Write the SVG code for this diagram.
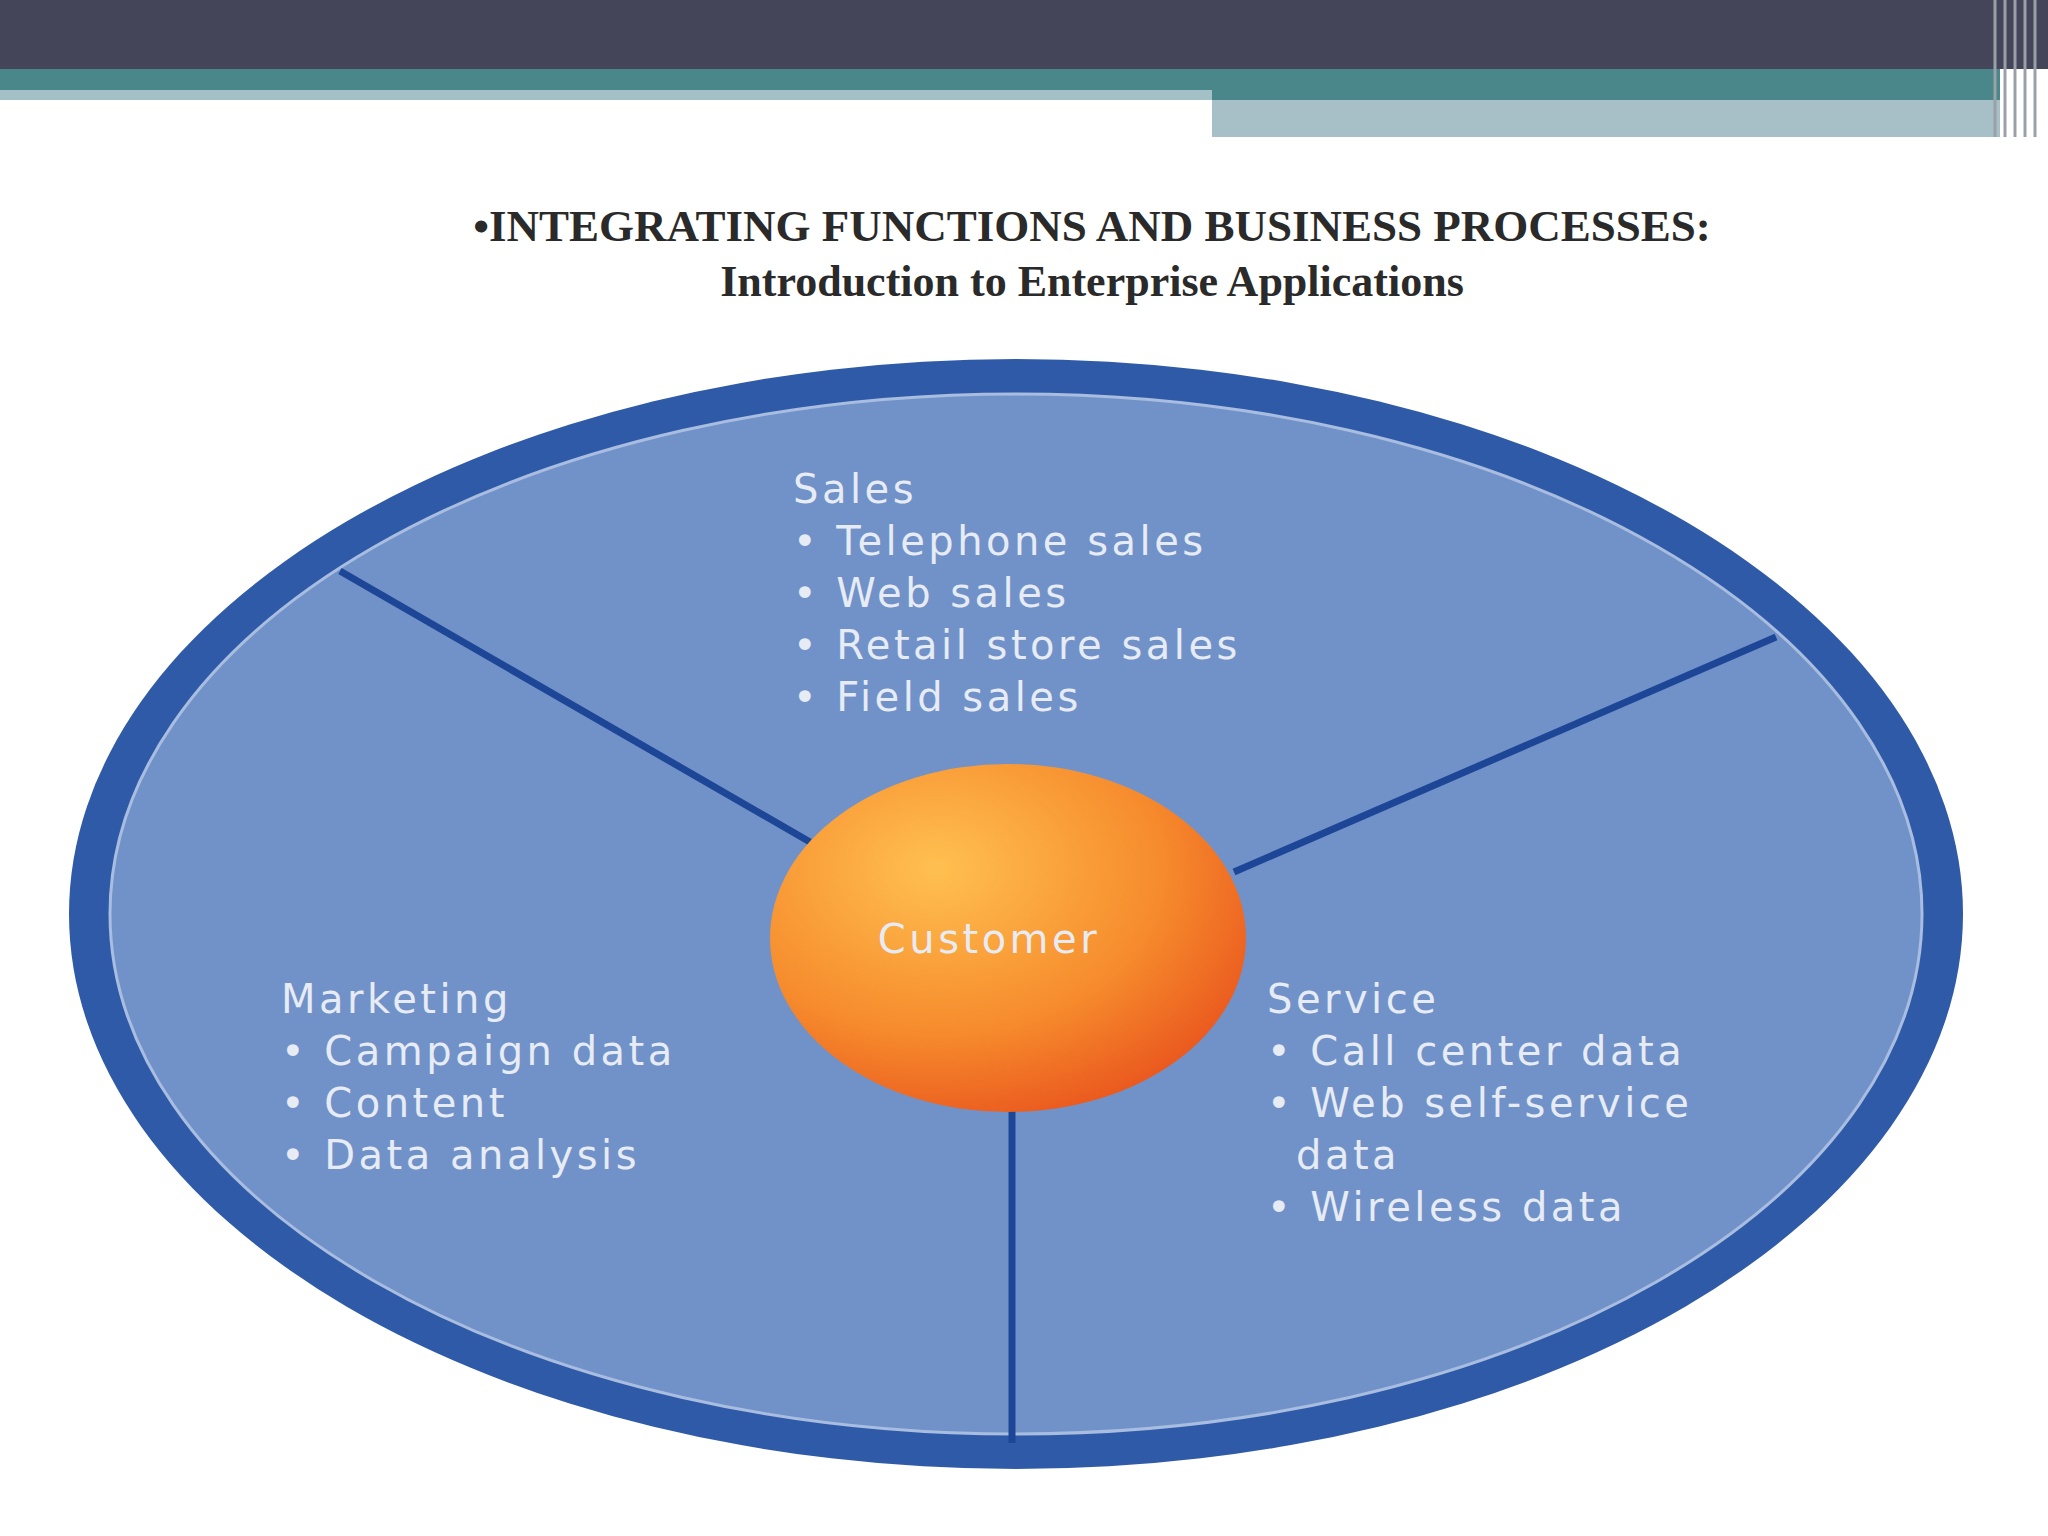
<svg xmlns="http://www.w3.org/2000/svg" width="2048" height="1536" viewBox="0 0 2048 1536">
<defs>
<radialGradient id="og" cx="0.35" cy="0.3" r="0.8">
<stop offset="0" stop-color="#ffc050"/><stop offset="0.6" stop-color="#f68a2c"/><stop offset="1" stop-color="#e8501c"/>
</radialGradient>
<style>
.t{font-family:"Liberation Serif",serif;font-weight:bold;fill:#2a2a2a;text-anchor:middle}
.l{font-family:"DejaVu Sans",sans-serif;font-size:40px;letter-spacing:3.5px;fill:#e6ebf4}
.d{stroke:#1e4696;stroke-width:7}
</style>
</defs>
<rect width="2048" height="1536" fill="#fff"/>
<g id="header">
<rect x="0" y="0" width="2048" height="69" fill="#45455a"/>
<rect x="0" y="69" width="2000" height="21" fill="#4a878a"/>
<rect x="0" y="90" width="1212" height="10" fill="#a2c0c6"/>
<rect x="1212" y="90" width="788" height="10" fill="#4a878a"/>
<rect x="1212" y="100" width="788" height="37" fill="#a7bfc7"/>
<g stroke="#9aa0a8" stroke-width="3"><line x1="1995" y1="0" x2="1995" y2="137"/><line x1="2005" y1="0" x2="2005" y2="137"/><line x1="2015" y1="0" x2="2015" y2="137"/><line x1="2025" y1="0" x2="2025" y2="137"/><line x1="2035" y1="0" x2="2035" y2="137"/></g>
</g>
<g id="title">
<text class="t" x="1092" y="241" font-size="45">•INTEGRATING FUNCTIONS AND BUSINESS PROCESSES:</text>
<text class="t" x="1092" y="296" font-size="44">Introduction to Enterprise Applications</text>
</g>
<g id="wheel">
<ellipse cx="1016" cy="914" rx="947" ry="555" fill="#2f5aa8"/>
<ellipse cx="1016" cy="914" rx="906" ry="520" fill="#7192c8" stroke="#a9bde0" stroke-width="3"/>
</g>
<g id="connectors">
<line class="d" x1="340" y1="571" x2="810" y2="842"/>
<line class="d" x1="1776" y1="637" x2="1234" y2="872"/>
<line class="d" x1="1012" y1="1110" x2="1012" y2="1443"/>
</g>
<g id="customer">
<ellipse cx="1008" cy="938" rx="238" ry="174" fill="url(#og)"/>
<text class="l" x="989" y="953" text-anchor="middle" fill="#fde8d0">Customer</text>
</g>
<g id="sales">
<text class="l" x="793" y="503">Sales</text>
<text class="l" x="793" y="555">• Telephone sales</text>
<text class="l" x="793" y="607">• Web sales</text>
<text class="l" x="793" y="659">• Retail store sales</text>
<text class="l" x="793" y="711">• Field sales</text>
</g>
<g id="marketing">
<text class="l" x="281" y="1013">Marketing</text>
<text class="l" x="281" y="1065">• Campaign data</text>
<text class="l" x="281" y="1117">• Content</text>
<text class="l" x="281" y="1169">• Data analysis</text>
</g>
<g id="service">
<text class="l" x="1267" y="1013">Service</text>
<text class="l" x="1267" y="1065">• Call center data</text>
<text class="l" x="1267" y="1117">• Web self-service</text>
<text class="l" x="1296" y="1169">data</text>
<text class="l" x="1267" y="1221">• Wireless data</text>
</g>
</svg>
